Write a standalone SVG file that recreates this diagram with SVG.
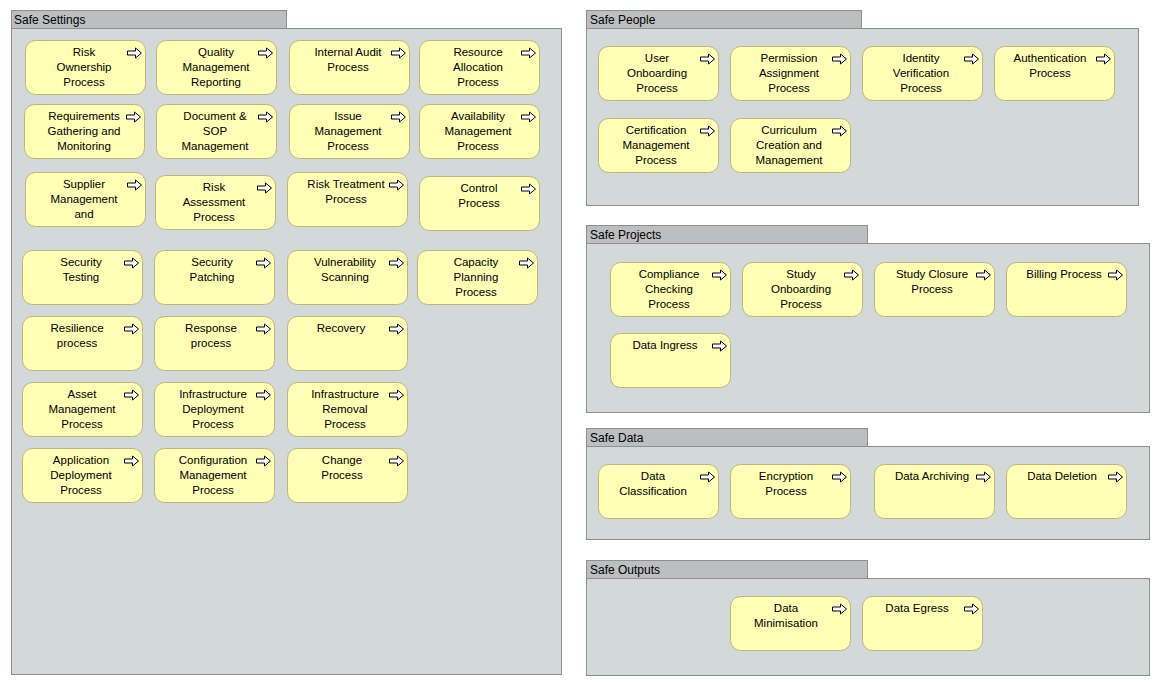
<svg xmlns="http://www.w3.org/2000/svg" xmlns:xlink="http://www.w3.org/1999/xlink" width="1160" height="686" viewBox="0 0 1160 686">
<style>
.body{fill:#d3d8d9;stroke:#8f8f8f;stroke-width:1}
.tab{fill:#bcbec0;stroke:#8f8f8f;stroke-width:1}
.gt{font-family:"Liberation Sans",Arial,sans-serif;font-size:12px;fill:#000}
.n{fill:#ffffb5;stroke:#bdb67a;stroke-width:1}
.t{font-family:"Liberation Sans",Arial,sans-serif;font-size:11.5px;fill:#000;text-anchor:middle}
</style>
<defs>
<symbol id="arr" overflow="visible">
<path d="M0.5,-2 H8.5 V-5 L14.5,0 L8.5,5 V2 H0.5 Z" fill="#fff" stroke="#000" stroke-width="1"/>
</symbol>
</defs>
<rect width="1160" height="686" fill="#fff"/>
<g id="groups">
<g id="safe-settings"><rect class="body" x="11.5" y="28.5" width="550" height="646"/><rect class="tab" x="11.5" y="10.5" width="275" height="18"/><text class="gt" x="14" y="24">Safe Settings</text></g>
<g id="safe-people"><rect class="body" x="586.5" y="28.5" width="552" height="177"/><rect class="tab" x="586.5" y="10.5" width="275" height="18"/><text class="gt" x="590" y="24">Safe People</text></g>
<g id="safe-projects"><rect class="body" x="586.5" y="243.5" width="563" height="169"/><rect class="tab" x="586.5" y="225.5" width="281" height="18"/><text class="gt" x="590" y="239">Safe Projects</text></g>
<g id="safe-data"><rect class="body" x="586.5" y="446.5" width="563" height="93"/><rect class="tab" x="586.5" y="428.5" width="281" height="18"/><text class="gt" x="590" y="442">Safe Data</text></g>
<g id="safe-outputs"><rect class="body" x="586.5" y="578.5" width="563" height="97"/><rect class="tab" x="586.5" y="560.5" width="281" height="18"/><text class="gt" x="590" y="574">Safe Outputs</text></g>
</g>
<g id="connectors"></g>
<g id="nodes">
<g id="risk-ownership"><rect class="n" x="25.5" y="40.5" width="120" height="54" rx="10"/><use href="#arr" x="127" y="53"/><text class="t" x="84" y="56"><tspan x="84">Risk</tspan><tspan x="84" dy="15">Ownership</tspan><tspan x="84" dy="15">Process</tspan></text></g>
<g id="quality-management"><rect class="n" x="156.5" y="40.5" width="120" height="54" rx="10"/><use href="#arr" x="258" y="53"/><text class="t" x="216" y="56"><tspan x="216">Quality</tspan><tspan x="216" dy="15">Management</tspan><tspan x="216" dy="15">Reporting</tspan></text></g>
<g id="internal-audit"><rect class="n" x="289.5" y="40.5" width="120" height="54" rx="10"/><use href="#arr" x="391" y="53"/><text class="t" x="348" y="56"><tspan x="348">Internal Audit</tspan><tspan x="348" dy="15">Process</tspan></text></g>
<g id="resource-allocation"><rect class="n" x="419.5" y="40.5" width="120" height="54" rx="10"/><use href="#arr" x="521" y="53"/><text class="t" x="478" y="56"><tspan x="478">Resource</tspan><tspan x="478" dy="15">Allocation</tspan><tspan x="478" dy="15">Process</tspan></text></g>
<g id="requirements"><rect class="n" x="24.5" y="104.5" width="120" height="54" rx="10"/><use href="#arr" x="126" y="117"/><text class="t" x="84" y="120"><tspan x="84">Requirements</tspan><tspan x="84" dy="15">Gathering and</tspan><tspan x="84" dy="15">Monitoring</tspan></text></g>
<g id="document-sop"><rect class="n" x="156.5" y="104.5" width="120" height="54" rx="10"/><use href="#arr" x="258" y="117"/><text class="t" x="215" y="120"><tspan x="215">Document &amp;</tspan><tspan x="215" dy="15">SOP</tspan><tspan x="215" dy="15">Management</tspan></text></g>
<g id="issue-management"><rect class="n" x="289.5" y="104.5" width="120" height="54" rx="10"/><use href="#arr" x="391" y="117"/><text class="t" x="348" y="120"><tspan x="348">Issue</tspan><tspan x="348" dy="15">Management</tspan><tspan x="348" dy="15">Process</tspan></text></g>
<g id="availability"><rect class="n" x="419.5" y="104.5" width="120" height="54" rx="10"/><use href="#arr" x="521" y="117"/><text class="t" x="478" y="120"><tspan x="478">Availability</tspan><tspan x="478" dy="15">Management</tspan><tspan x="478" dy="15">Process</tspan></text></g>
<g id="supplier"><rect class="n" x="25.5" y="172.5" width="120" height="54" rx="10"/><use href="#arr" x="127" y="185"/><text class="t" x="84" y="188"><tspan x="84">Supplier</tspan><tspan x="84" dy="15">Management</tspan><tspan x="84" dy="15">and</tspan></text></g>
<g id="risk-assessment"><rect class="n" x="155.5" y="175.5" width="120" height="54" rx="10"/><use href="#arr" x="257" y="188"/><text class="t" x="214" y="191"><tspan x="214">Risk</tspan><tspan x="214" dy="15">Assessment</tspan><tspan x="214" dy="15">Process</tspan></text></g>
<g id="risk-treatment"><rect class="n" x="287.5" y="172.5" width="120" height="54" rx="10"/><use href="#arr" x="389" y="185"/><text class="t" x="346" y="188"><tspan x="346">Risk Treatment</tspan><tspan x="346" dy="15">Process</tspan></text></g>
<g id="control"><rect class="n" x="419.5" y="176.5" width="120" height="54" rx="10"/><use href="#arr" x="521" y="189"/><text class="t" x="479" y="192"><tspan x="479">Control</tspan><tspan x="479" dy="15">Process</tspan></text></g>
<g id="security-testing"><rect class="n" x="22.5" y="250.5" width="120" height="54" rx="10"/><use href="#arr" x="124" y="263"/><text class="t" x="81" y="266"><tspan x="81">Security</tspan><tspan x="81" dy="15">Testing</tspan></text></g>
<g id="security-patching"><rect class="n" x="154.5" y="250.5" width="120" height="54" rx="10"/><use href="#arr" x="256" y="263"/><text class="t" x="212" y="266"><tspan x="212">Security</tspan><tspan x="212" dy="15">Patching</tspan></text></g>
<g id="vulnerability-scanning"><rect class="n" x="287.5" y="250.5" width="120" height="54" rx="10"/><use href="#arr" x="389" y="263"/><text class="t" x="345" y="266"><tspan x="345">Vulnerability</tspan><tspan x="345" dy="15">Scanning</tspan></text></g>
<g id="capacity-planning"><rect class="n" x="417.5" y="250.5" width="120" height="54" rx="10"/><use href="#arr" x="519" y="263"/><text class="t" x="476" y="266"><tspan x="476">Capacity</tspan><tspan x="476" dy="15">Planning</tspan><tspan x="476" dy="15">Process</tspan></text></g>
<g id="resilience"><rect class="n" x="22.5" y="316.5" width="120" height="54" rx="10"/><use href="#arr" x="124" y="329"/><text class="t" x="77" y="332"><tspan x="77">Resilience</tspan><tspan x="77" dy="15">process</tspan></text></g>
<g id="response"><rect class="n" x="154.5" y="316.5" width="120" height="54" rx="10"/><use href="#arr" x="256" y="329"/><text class="t" x="211" y="332"><tspan x="211">Response</tspan><tspan x="211" dy="15">process</tspan></text></g>
<g id="recovery"><rect class="n" x="287.5" y="316.5" width="120" height="54" rx="10"/><use href="#arr" x="389" y="329"/><text class="t" x="341" y="332">Recovery</text></g>
<g id="asset-management"><rect class="n" x="22.5" y="382.5" width="120" height="54" rx="10"/><use href="#arr" x="124" y="395"/><text class="t" x="82" y="398"><tspan x="82">Asset</tspan><tspan x="82" dy="15">Management</tspan><tspan x="82" dy="15">Process</tspan></text></g>
<g id="infrastructure-deployment"><rect class="n" x="154.5" y="382.5" width="120" height="54" rx="10"/><use href="#arr" x="256" y="395"/><text class="t" x="213" y="398"><tspan x="213">Infrastructure</tspan><tspan x="213" dy="15">Deployment</tspan><tspan x="213" dy="15">Process</tspan></text></g>
<g id="infrastructure-removal"><rect class="n" x="287.5" y="382.5" width="120" height="54" rx="10"/><use href="#arr" x="389" y="395"/><text class="t" x="345" y="398"><tspan x="345">Infrastructure</tspan><tspan x="345" dy="15">Removal</tspan><tspan x="345" dy="15">Process</tspan></text></g>
<g id="application-deployment"><rect class="n" x="22.5" y="448.5" width="120" height="54" rx="10"/><use href="#arr" x="124" y="461"/><text class="t" x="81" y="464"><tspan x="81">Application</tspan><tspan x="81" dy="15">Deployment</tspan><tspan x="81" dy="15">Process</tspan></text></g>
<g id="configuration-management"><rect class="n" x="154.5" y="448.5" width="120" height="54" rx="10"/><use href="#arr" x="256" y="461"/><text class="t" x="213" y="464"><tspan x="213">Configuration</tspan><tspan x="213" dy="15">Management</tspan><tspan x="213" dy="15">Process</tspan></text></g>
<g id="change"><rect class="n" x="287.5" y="448.5" width="120" height="54" rx="10"/><use href="#arr" x="389" y="461"/><text class="t" x="342" y="464"><tspan x="342">Change</tspan><tspan x="342" dy="15">Process</tspan></text></g>

<g id="user-onboarding"><rect class="n" x="598.5" y="46.5" width="120" height="54" rx="10"/><use href="#arr" x="700" y="59"/><text class="t" x="657" y="62"><tspan x="657">User</tspan><tspan x="657" dy="15">Onboarding</tspan><tspan x="657" dy="15">Process</tspan></text></g>
<g id="permission-assignment"><rect class="n" x="730.5" y="46.5" width="120" height="54" rx="10"/><use href="#arr" x="832" y="59"/><text class="t" x="789" y="62"><tspan x="789">Permission</tspan><tspan x="789" dy="15">Assignment</tspan><tspan x="789" dy="15">Process</tspan></text></g>
<g id="identity-verification"><rect class="n" x="862.5" y="46.5" width="120" height="54" rx="10"/><use href="#arr" x="964" y="59"/><text class="t" x="921" y="62"><tspan x="921">Identity</tspan><tspan x="921" dy="15">Verification</tspan><tspan x="921" dy="15">Process</tspan></text></g>
<g id="authentication"><rect class="n" x="994.5" y="46.5" width="120" height="54" rx="10"/><use href="#arr" x="1096" y="59"/><text class="t" x="1050" y="62"><tspan x="1050">Authentication</tspan><tspan x="1050" dy="15">Process</tspan></text></g>
<g id="certification-management"><rect class="n" x="598.5" y="118.5" width="120" height="54" rx="10"/><use href="#arr" x="700" y="131"/><text class="t" x="656" y="134"><tspan x="656">Certification</tspan><tspan x="656" dy="15">Management</tspan><tspan x="656" dy="15">Process</tspan></text></g>
<g id="curriculum-creation"><rect class="n" x="730.5" y="118.5" width="120" height="54" rx="10"/><use href="#arr" x="832" y="131"/><text class="t" x="789" y="134"><tspan x="789">Curriculum</tspan><tspan x="789" dy="15">Creation and</tspan><tspan x="789" dy="15">Management</tspan></text></g>

<g id="compliance-checking"><rect class="n" x="610.5" y="262.5" width="120" height="54" rx="10"/><use href="#arr" x="712" y="275"/><text class="t" x="669" y="278"><tspan x="669">Compliance</tspan><tspan x="669" dy="15">Checking</tspan><tspan x="669" dy="15">Process</tspan></text></g>
<g id="study-onboarding"><rect class="n" x="742.5" y="262.5" width="120" height="54" rx="10"/><use href="#arr" x="844" y="275"/><text class="t" x="801" y="278"><tspan x="801">Study</tspan><tspan x="801" dy="15">Onboarding</tspan><tspan x="801" dy="15">Process</tspan></text></g>
<g id="study-closure"><rect class="n" x="874.5" y="262.5" width="120" height="54" rx="10"/><use href="#arr" x="976" y="275"/><text class="t" x="932" y="278"><tspan x="932">Study Closure</tspan><tspan x="932" dy="15">Process</tspan></text></g>
<g id="billing"><rect class="n" x="1006.5" y="262.5" width="120" height="54" rx="10"/><use href="#arr" x="1108" y="275"/><text class="t" x="1064" y="278">Billing Process</text></g>
<g id="data-ingress"><rect class="n" x="610.5" y="333.5" width="120" height="54" rx="10"/><use href="#arr" x="712" y="346"/><text class="t" x="665" y="349">Data Ingress</text></g>

<g id="data-classification"><rect class="n" x="598.5" y="464.5" width="120" height="54" rx="10"/><use href="#arr" x="700" y="477"/><text class="t" x="653" y="480"><tspan x="653">Data</tspan><tspan x="653" dy="15">Classification</tspan></text></g>
<g id="encryption"><rect class="n" x="730.5" y="464.5" width="120" height="54" rx="10"/><use href="#arr" x="832" y="477"/><text class="t" x="786" y="480"><tspan x="786">Encryption</tspan><tspan x="786" dy="15">Process</tspan></text></g>
<g id="data-archiving"><rect class="n" x="874.5" y="464.5" width="120" height="54" rx="10"/><use href="#arr" x="976" y="477"/><text class="t" x="932" y="480">Data Archiving</text></g>
<g id="data-deletion"><rect class="n" x="1006.5" y="464.5" width="120" height="54" rx="10"/><use href="#arr" x="1108" y="477"/><text class="t" x="1062" y="480">Data Deletion</text></g>

<g id="data-minimisation"><rect class="n" x="730.5" y="596.5" width="120" height="54" rx="10"/><use href="#arr" x="832" y="609"/><text class="t" x="786" y="612"><tspan x="786">Data</tspan><tspan x="786" dy="15">Minimisation</tspan></text></g>
<g id="data-egress"><rect class="n" x="862.5" y="596.5" width="120" height="54" rx="10"/><use href="#arr" x="964" y="609"/><text class="t" x="917" y="612">Data Egress</text></g>
</g>
</svg>
